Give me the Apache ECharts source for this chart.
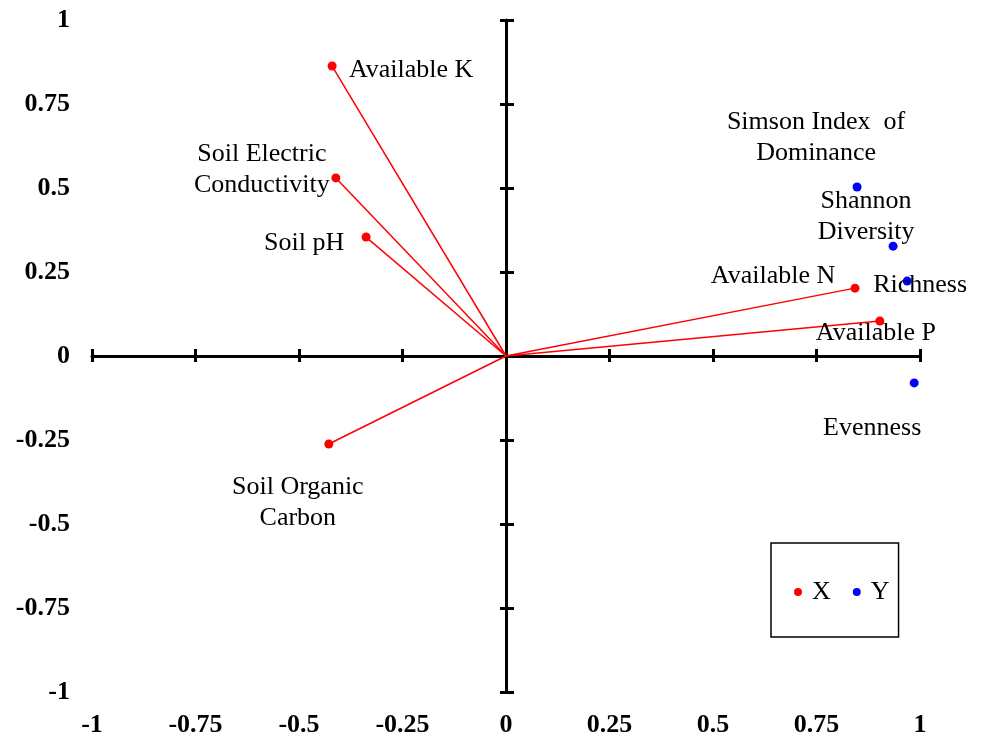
<!DOCTYPE html>
<html>
<head>
<meta charset="utf-8">
<script src="https://cdn.jsdelivr.net/npm/echarts@6/dist/echarts.min.js"></script>
<style>html,body{margin:0;padding:0;background:#fff;}#c{width:986px;height:743px;}</style>
</head>
<body>
<div id="c"></div>
<script>
// ---- data ----
const xNames = ['Available K', 'Soil Electric\nConductivity', 'Soil pH', 'Soil Organic\nCarbon', 'Available N', 'Available P'];
const xCoordX = [-0.420, -0.411, -0.338, -0.428, 0.843, 0.903];
const xCoordY = [0.863, 0.530, 0.354, -0.262, 0.202, 0.104];

const yNames = ['Simson Index  of\nDominance', 'Shannon\nDiversity', 'Richness', 'Evenness'];
const yCoordX = [0.848, 0.935, 0.969, 0.986];
const yCoordY = [0.503, 0.327, 0.223, -0.080];

const tickLabels = ['-1', '-0.75', '-0.5', '-0.25', '0', '0.25', '0.5', '0.75', '1'];

// label placement (layout, separate from data)
const xLabelOffsets = [[79, 4], [-74, -8], [-62, 6], [-31, 59], [-82, -12], [-4, 12]];
const yLabelOffsets = [[-41, -49], [-27, -29], [13, 4], [-42, 45]];

// ---- chart ----
const FONT = '"Liberation Serif", "Times New Roman", serif';
const chart = echarts.init(document.getElementById('c'), null, { renderer: 'canvas' });

function fmtTick(v) {
  const s = String(Math.round(v * 100) / 100);
  const i = tickLabels.indexOf(s);
  return i >= 0 ? tickLabels[i] : '';
}

const labelStyle = {
  show: true,
  position: 'inside',
  align: 'center',
  verticalAlign: 'middle',
  color: '#000',
  fontFamily: FONT,
  fontSize: 26,
  lineHeight: 31,
  formatter: p => p.name
};

const xData = xNames.map((n, i) => ({ name: n, value: [xCoordX[i], xCoordY[i]], label: { offset: xLabelOffsets[i] } }));
const yData = yNames.map((n, i) => ({ name: n, value: [yCoordX[i], yCoordY[i]], label: { offset: yLabelOffsets[i] } }));
const lineData = xNames.map((n, i) => ({ coords: [[0, 0], [xCoordX[i], xCoordY[i]]] }));

const baseAxis = { type: 'value', min: -1, max: 1, interval: 0.25, splitLine: { show: false } };
const tickStyle = { color: '#000', width: 3 };

chart.setOption({
  animation: false,
  backgroundColor: '#fff',
  grid: { left: 92, right: 66, top: 20, bottom: 51, containLabel: false },
  legend: {
    data: ['X', 'Y'],
    left: 771, top: 543,
    orient: 'horizontal',
    icon: 'circle',
    itemWidth: 8, itemHeight: 8,
    itemGap: 22,
    padding: [36, 9, 32, 23],
    borderColor: '#000', borderWidth: 1.5,
    textStyle: { fontFamily: FONT, fontSize: 26, color: '#000', padding: [0, 0, 0, 5] }
  },
  xAxis: [
    Object.assign({}, baseAxis, {
      position: 'bottom',
      axisLine: { show: true, onZero: true, onZeroAxisIndex: 0, lineStyle: { color: '#000', width: 3 } },
      axisTick: { show: true, inside: false, length: 6, lineStyle: tickStyle },
      axisLabel: { show: false }
    }),
    Object.assign({}, baseAxis, {
      position: 'bottom',
      axisLine: { show: false, onZero: true, onZeroAxisIndex: 0 },
      axisTick: { show: true, inside: true, length: 7, lineStyle: tickStyle },
      axisLabel: { show: false }
    }),
    Object.assign({}, baseAxis, {
      position: 'bottom',
      axisLine: { show: false, onZero: false },
      axisTick: { show: false },
      axisLabel: { show: true, margin: 20, color: '#000', fontFamily: FONT, fontSize: 26, fontWeight: 'bold', formatter: fmtTick }
    })
  ],
  yAxis: [
    Object.assign({}, baseAxis, {
      position: 'left',
      axisLine: { show: true, onZero: true, onZeroAxisIndex: 0, lineStyle: { color: '#000', width: 3 } },
      axisTick: { show: true, inside: true, length: 8, lineStyle: tickStyle },
      axisLabel: { show: false }
    }),
    Object.assign({}, baseAxis, {
      position: 'left',
      axisLine: { show: false, onZero: true, onZeroAxisIndex: 0 },
      axisTick: { show: true, inside: false, length: 6, lineStyle: tickStyle },
      axisLabel: { show: false }
    }),
    Object.assign({}, baseAxis, {
      position: 'left',
      axisLine: { show: false, onZero: false },
      axisTick: { show: false },
      axisLabel: { show: true, margin: 22, color: '#000', fontFamily: FONT, fontSize: 26, fontWeight: 'bold', formatter: fmtTick }
    })
  ],
  series: [
    {
      type: 'lines',
      coordinateSystem: 'cartesian2d',
      xAxisIndex: 0, yAxisIndex: 0,
      silent: true,
      lineStyle: { color: '#ff0000', width: 1.5, opacity: 1 },
      data: lineData,
      z: 2
    },
    {
      name: 'X', type: 'scatter', xAxisIndex: 0, yAxisIndex: 0,
      symbol: 'circle', symbolSize: 9,
      itemStyle: { color: '#ff0000', opacity: 1 },
      label: labelStyle,
      data: xData, z: 3
    },
    {
      name: 'Y', type: 'scatter', xAxisIndex: 0, yAxisIndex: 0,
      symbol: 'circle', symbolSize: 9,
      itemStyle: { color: '#0000ff', opacity: 1 },
      label: labelStyle,
      data: yData, z: 3
    }
  ]
});
</script>
</body>
</html>
